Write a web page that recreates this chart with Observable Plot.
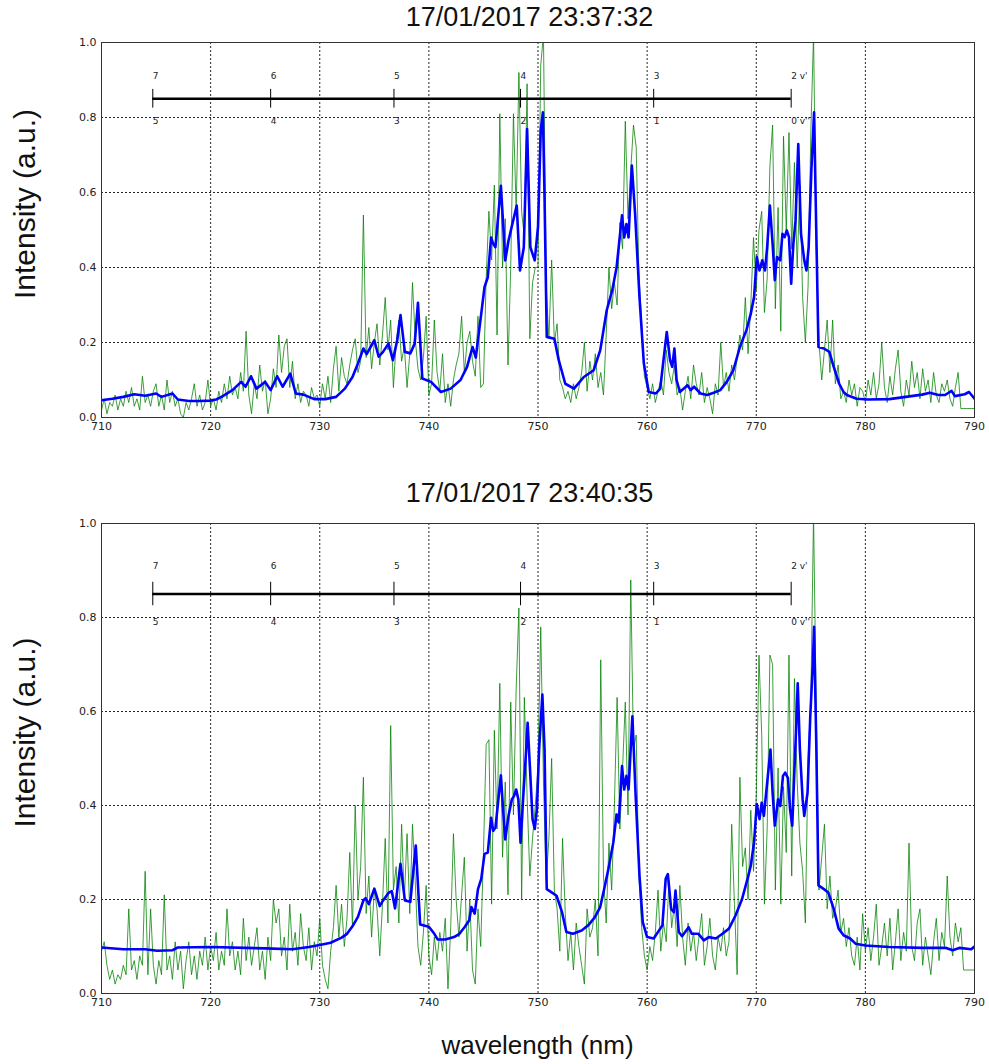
<!DOCTYPE html>
<html><head><meta charset="utf-8">
<script src="https://cdn.jsdelivr.net/npm/d3@7"></script>
<script src="https://cdn.jsdelivr.net/npm/@observablehq/plot@0.6"></script>
<style>
body{margin:0;background:#fff;}
#fig{position:relative;width:989px;height:1064px;background:#fff;font-family:"Liberation Sans",Arial,sans-serif;overflow:hidden;}
.title{position:absolute;left:93px;width:873px;text-align:center;font-size:27px;line-height:30px;color:#111;}
.xlabel{position:absolute;left:101px;width:873px;text-align:center;font-size:26px;line-height:30px;color:#111;}
.panel{position:absolute;left:0;}
</style></head><body><div id="fig"></div>
<script>
// ---- data ----
const titles = ["17/01/2017 23:37:32", "17/01/2017 23:40:35"];
const xTicks = [710, 720, 730, 740, 750, 760, 770, 780, 790];
const yTicks = [0.0, 0.2, 0.4, 0.6, 0.8, 1.0];

// vibrational band markers (N2 first positive, Δv = 2)
const bandWl = [714.7, 725.5, 736.8, 748.4, 760.6, 773.2];
const upperLabels = ["7", "6", "5", "4", "3", "2 v'"];
const lowerLabels = ["5", "4", "3", "2", "1", "0 v''"];
const barLevel = 0.85, barTickLo = 0.825, barTickHi = 0.875, upperLabelY = 0.91, lowerLabelY = 0.79;

// raw spectrum (green) sampled every 0.25 nm from 710 nm
const greenStart = 710, greenStep = 0.25;
const greenA = [
0.02,0.05,0.01,0.04,0.03,0.06,0.02,0.05,0.03,0.07,0.04,0.08,0.03,0.05,0.02,0.11,0.04,0.06,0.03,0.07,
0.09,0.03,0.06,0.02,0.10,0.04,0.07,0.03,0.05,0.01,0.00,0.04,0.02,0.05,0.09,0.03,0.06,0.02,0.04,0.10,
0.03,0.05,0.02,0.07,0.04,0.09,0.05,0.11,0.06,0.08,0.05,0.12,0.07,0.23,0.06,0.01,0.09,0.05,0.14,0.07,
0.10,0.01,0.05,0.13,0.08,0.22,0.12,0.19,0.21,0.08,0.15,0.05,0.09,0.04,0.07,0.06,0.03,0.08,0.05,0.06,
0.03,0.09,0.05,0.11,0.04,0.13,0.19,0.07,0.16,0.11,0.09,0.14,0.18,0.21,0.12,0.15,0.54,0.16,0.24,0.13,
0.20,0.25,0.14,0.22,0.32,0.18,0.26,0.08,0.20,0.26,0.15,0.19,0.08,0.17,0.36,0.21,0.13,0.10,0.16,0.27,
0.06,0.09,0.26,0.12,0.07,0.17,0.04,0.09,0.03,0.10,0.14,0.17,0.27,0.12,0.20,0.23,0.15,0.11,0.27,0.08,
0.09,0.37,0.55,0.42,0.62,0.22,0.81,0.40,0.53,0.14,0.40,0.81,0.55,0.92,0.55,0.48,0.89,0.21,0.36,0.40,
0.40,0.94,1.02,0.35,0.21,0.42,0.20,0.25,0.10,0.08,0.05,0.07,0.04,0.09,0.05,0.08,0.12,0.20,0.07,0.15,
0.10,0.17,0.08,0.12,0.06,0.22,0.40,0.29,0.36,0.30,0.52,0.45,0.79,0.53,0.66,0.78,0.72,0.38,0.25,0.11,
0.08,0.05,0.09,0.04,0.07,0.10,0.06,0.18,0.12,0.09,0.14,0.06,0.08,0.02,0.07,0.11,0.05,0.14,0.09,0.06,
0.12,0.04,0.08,0.05,0.01,0.09,0.06,0.20,0.08,0.12,0.07,0.14,0.10,0.16,0.22,0.18,0.32,0.17,0.30,0.48,
0.34,0.50,0.55,0.28,0.37,0.67,0.78,0.29,0.56,0.23,0.75,0.50,0.76,0.45,0.68,0.40,0.62,0.32,0.20,0.35,
0.76,1.02,0.45,0.20,0.10,0.18,0.26,0.12,0.26,0.09,0.14,0.05,0.07,0.04,0.10,0.06,0.09,0.03,0.08,0.07,
0.04,0.10,0.06,0.12,0.05,0.09,0.20,0.08,0.04,0.11,0.06,0.13,0.18,0.07,0.03,0.10,0.06,0.15,0.08,0.12,
0.05,0.13,0.07,0.10,0.04,0.12,0.06,0.04,0.09,0.07,0.10,0.05,0.03,0.08,0.12,0.024,0.024,0.024,0.024,0.024,
0.024];
const greenB = [
0.09,0.11,0.06,0.03,0.05,0.02,0.04,0.03,0.06,0.04,0.18,0.05,0.07,0.03,0.08,0.06,0.26,0.04,0.18,0.06,
0.02,0.07,0.04,0.21,0.05,0.08,0.03,0.11,0.05,0.09,0.01,0.07,0.11,0.04,0.08,0.03,0.09,0.06,0.12,0.05,
0.10,0.07,0.13,0.05,0.09,0.06,0.18,0.08,0.11,0.05,0.09,0.04,0.16,0.07,0.12,0.06,0.10,0.14,0.05,0.09,
0.03,0.12,0.07,0.20,0.15,0.18,0.08,0.12,0.05,0.19,0.09,0.13,0.06,0.17,0.10,0.07,0.14,0.05,0.11,0.08,
0.16,0.06,0.03,0.01,0.09,0.14,0.23,0.12,0.19,0.10,0.16,0.30,0.14,0.40,0.20,0.27,0.46,0.17,0.25,0.12,
0.22,0.18,0.08,0.19,0.33,0.15,0.57,0.22,0.27,0.15,0.36,0.20,0.34,0.17,0.36,0.24,0.10,0.06,0.13,0.23,
0.08,0.04,0.12,0.07,0.13,0.09,0.16,0.01,0.14,0.34,0.20,0.12,0.21,0.29,0.09,0.20,0.05,0.02,0.18,0.10,
0.30,0.53,0.54,0.19,0.56,0.35,0.66,0.29,0.45,0.21,0.62,0.38,0.65,0.82,0.20,0.63,0.42,0.25,0.33,0.40,
0.48,0.78,0.45,0.24,0.33,0.50,0.22,0.18,0.09,0.33,0.17,0.07,0.13,0.05,0.15,0.10,0.06,0.02,0.18,0.12,
0.14,0.20,0.08,0.71,0.25,0.15,0.32,0.22,0.40,0.63,0.35,0.48,0.62,0.38,0.88,0.52,0.55,0.25,0.14,0.08,
0.05,0.10,0.07,0.13,0.22,0.09,0.15,0.11,0.24,0.14,0.19,0.10,0.23,0.12,0.06,0.15,0.09,0.13,0.07,0.12,
0.17,0.06,0.10,0.16,0.08,0.05,0.12,0.09,0.14,0.08,0.11,0.36,0.19,0.04,0.46,0.27,0.31,0.20,0.39,0.26,
0.42,0.72,0.55,0.19,0.35,0.72,0.70,0.22,0.48,0.19,0.44,0.30,0.72,0.25,0.67,0.45,0.32,0.26,0.15,0.50,
0.62,1.02,0.60,0.22,0.29,0.36,0.18,0.25,0.16,0.18,0.22,0.13,0.16,0.10,0.14,0.08,0.06,0.12,0.05,0.17,
0.09,0.14,0.07,0.12,0.19,0.06,0.10,0.15,0.08,0.16,0.05,0.11,0.18,0.07,0.13,0.09,0.32,0.10,0.07,0.15,
0.18,0.06,0.12,0.08,0.04,0.11,0.16,0.07,0.13,0.10,0.25,0.12,0.08,0.15,0.11,0.14,0.05,0.05,0.05,0.05,
0.05];

// smoothed spectrum (blue)
const blueA_wl = [710,711,712,713,714,715,715.5,716.5,717,718,719,720,720.5,721,722,722.8,723.2,723.7,724.2,725,
725.5,726.1,726.6,727.3,727.8,728.5,729.5,730.5,731.5,732.3,733,733.5,734,734.3,735,735.4,735.8,736.3,736.7,737.1,
737.4,737.8,738.3,738.7,739.0,739.4,740.2,741.1,742.0,742.9,743.5,744.0,744.3,744.8,745.1,745.4,745.7,745.9,746.1,746.6,
747.0,747.3,747.65,748.05,748.35,748.7,749.0,749.3,749.7,750.0,750.25,750.45,750.6,750.8,751.5,751.9,752.5,753.3,754.2,755.1,
755.7,756.3,756.8,757.2,757.7,757.9,758.1,758.3,758.6,758.9,759.3,759.7,760.15,760.8,761.2,761.5,761.8,762.1,762.3,762.5,
762.7,763.0,763.7,764.0,764.3,764.9,765.5,766.1,766.7,767.3,767.9,768.5,769.1,769.5,769.8,770.05,770.3,770.55,770.8,771.0,
771.25,771.5,771.7,771.9,772.2,772.4,772.6,772.8,773.0,773.2,773.4,773.6,773.85,774.1,774.4,774.6,774.8,775.05,775.3,775.5,
775.7,776.2,776.7,777.1,777.6,778.0,778.3,779.2,780.2,782.2,783.7,785.2,785.9,786.7,787.3,787.9,788.2,789.1,789.5,790];
const blueA_int = [0.046,0.05,0.055,0.062,0.058,0.064,0.055,0.064,0.048,0.044,0.044,0.045,0.048,0.055,0.073,0.095,0.082,0.11,0.077,0.095,
0.073,0.11,0.082,0.117,0.064,0.061,0.049,0.049,0.055,0.077,0.108,0.144,0.184,0.169,0.206,0.162,0.175,0.197,0.153,0.206,
0.273,0.175,0.171,0.197,0.306,0.104,0.095,0.068,0.077,0.10,0.135,0.188,0.16,0.277,0.348,0.374,0.48,0.463,0.454,0.618,
0.419,0.472,0.516,0.565,0.392,0.454,0.769,0.454,0.419,0.508,0.765,0.814,0.587,0.215,0.21,0.153,0.09,0.077,0.108,0.126,
0.179,0.286,0.339,0.40,0.539,0.48,0.516,0.48,0.672,0.543,0.321,0.144,0.068,0.064,0.077,0.153,0.228,0.153,0.135,0.184,
0.10,0.068,0.086,0.073,0.082,0.064,0.06,0.066,0.073,0.095,0.126,0.188,0.233,0.277,0.321,0.428,0.392,0.419,0.392,0.454,
0.565,0.463,0.366,0.428,0.419,0.49,0.481,0.499,0.481,0.357,0.463,0.525,0.729,0.49,0.419,0.392,0.454,0.658,0.814,0.499,
0.188,0.184,0.175,0.135,0.09,0.068,0.06,0.05,0.048,0.049,0.055,0.061,0.066,0.06,0.06,0.071,0.057,0.062,0.068,0.05];

const blueB_wl = [710,712,714,715.1,716.5,717,720,725,727.5,729,730,731,732,732.5,733,733.5,734,734.2,734.5,735,
735.5,735.8,736.3,736.6,736.9,737.4,737.8,738.3,738.8,739.2,740,740.5,740.8,741.5,742.3,742.8,743.3,743.7,743.9,744.2,
744.5,744.8,745.1,745.4,745.7,745.9,746.1,746.4,746.6,746.8,747.0,747.3,747.6,747.8,748.0,748.2,748.4,748.65,748.9,749.05,
749.3,749.5,749.7,749.9,750.1,750.4,750.6,750.8,751.25,751.7,752.2,752.6,753.2,754.0,754.6,755.2,755.7,756.1,756.45,756.9,
757.2,757.4,757.7,757.9,758.1,758.3,758.65,758.95,759.3,759.6,760.0,760.6,761.4,761.7,761.9,762.2,762.45,762.6,762.9,763.2,
763.8,764.1,764.7,765.2,765.65,766.3,766.9,767.5,768.1,768.7,769.2,769.5,769.8,770.05,770.3,770.5,770.7,771.0,771.3,771.5,
771.7,772.0,772.2,772.45,772.65,772.9,773.1,773.3,773.5,773.65,773.8,774.0,774.25,774.4,774.7,774.95,775.2,775.3,775.5,775.7,
776.2,776.6,777.1,777.55,778.0,778.6,779.1,780.0,782.2,785.2,787.4,788.0,788.6,789.7,790];
const blueB_int = [0.098,0.094,0.094,0.091,0.092,0.098,0.099,0.096,0.094,0.099,0.103,0.108,0.119,0.127,0.143,0.163,0.198,0.203,0.19,0.223,
0.186,0.198,0.214,0.218,0.181,0.276,0.198,0.195,0.315,0.147,0.142,0.127,0.115,0.115,0.12,0.127,0.142,0.156,0.184,0.17,
0.222,0.244,0.297,0.30,0.374,0.346,0.353,0.42,0.464,0.392,0.328,0.378,0.413,0.42,0.434,0.413,0.321,0.42,0.512,0.576,
0.463,0.371,0.35,0.392,0.519,0.636,0.519,0.222,0.215,0.208,0.173,0.131,0.127,0.134,0.145,0.162,0.184,0.226,0.265,0.321,
0.381,0.364,0.484,0.434,0.463,0.434,0.59,0.42,0.251,0.152,0.12,0.117,0.145,0.244,0.254,0.18,0.173,0.219,0.131,0.122,
0.141,0.127,0.127,0.113,0.12,0.117,0.127,0.138,0.166,0.201,0.244,0.272,0.322,0.403,0.371,0.406,0.378,0.448,0.519,0.427,
0.357,0.413,0.399,0.463,0.47,0.459,0.392,0.357,0.477,0.561,0.66,0.519,0.413,0.378,0.427,0.59,0.71,0.78,0.533,0.23,
0.222,0.215,0.18,0.138,0.124,0.117,0.106,0.102,0.099,0.097,0.097,0.092,0.097,0.094,0.1];

// ---- drawing ----
const fig = document.getElementById("fig");

function addDiv(cls, text, top) {
  const d = document.createElement("div");
  d.className = cls; d.textContent = text; d.style.top = top + "px";
  fig.appendChild(d);
}

function panel(green, bWl, bInt, svgTop, mt, plotH) {
  const mb = 26;
  const greenData = green.map((v, i) => ({x: greenStart + i * greenStep, y: v}));
  const blueData = bWl.map((w, i) => ({x: w, y: bInt[i]}));
  const bands = bandWl.map((w, i) => ({x: w, up: upperLabels[i], lo: lowerLabels[i]}));
  const bar = [{x1: bandWl[0], x2: bandWl[bandWl.length - 1], y: barLevel}];
  const chart = Plot.plot({
    width: 989, height: mt + plotH + mb,
    marginTop: mt, marginBottom: mb, marginLeft: 101, marginRight: 15,
    x: {domain: [710, 790]},
    y: {domain: [0, 1]},
    style: {fontFamily: "'DejaVu Sans', sans-serif", fontSize: "11px", color: "#222", background: "transparent", overflow: "visible"},
    marks: [
      Plot.ruleX(xTicks, {stroke: "#000", strokeDasharray: "2,2", strokeWidth: 1, strokeOpacity: 0.85}),
      Plot.ruleY(yTicks, {stroke: "#000", strokeDasharray: "2,2", strokeWidth: 1, strokeOpacity: 0.85}),
      Plot.line(greenData, {x: "x", y: "y", stroke: "#008000", strokeWidth: 0.9, strokeOpacity: 0.85, clip: true}),
      Plot.line(blueData, {x: "x", y: "y", stroke: "#0000ff", strokeWidth: 2.6, clip: true}),
      Plot.ruleY(bar, {x1: "x1", x2: "x2", y: "y", stroke: "#000", strokeWidth: 2.6}),
      Plot.ruleX(bands, {x: "x", y1: () => barTickLo, y2: () => barTickHi, stroke: "#000", strokeWidth: 1}),
      Plot.text(bands, {x: "x", y: () => upperLabelY, text: "up", textAnchor: "start", fontSize: 9, fill: "#222"}),
      Plot.text(bands, {x: "x", y: () => lowerLabelY, text: "lo", textAnchor: "start", fontSize: 9, fill: "#222"}),
      Plot.frame({stroke: "#333", strokeWidth: 1}),
      Plot.axisX({ticks: xTicks, tickSize: 0, tickPadding: 5, label: null, tickFormat: d3.format("d")}),
      Plot.axisY({ticks: yTicks, tickSize: 0, tickPadding: 5, label: null, tickFormat: d3.format(".1f")}),
      Plot.text(["Intensity (a.u.)"], {frameAnchor: "left", textAnchor: "middle", dx: -76, dy: -26, rotate: -90, fontSize: 30,
        fontFamily: "'Liberation Sans', Arial, sans-serif", fill: "#111"})
    ]
  });
  chart.classList.add("panel");
  chart.style.top = svgTop + "px";
  chart.style.position = "absolute";
  fig.appendChild(chart);
}

addDiv("title", titles[0], 2);
panel(greenA, blueA_wl, blueA_int, 30, 12, 375);
addDiv("title", titles[1], 478);
panel(greenB, blueB_wl, blueB_int, 510, 13, 470);
addDiv("xlabel", "wavelength (nm)", 1030);
</script>
</body></html>
